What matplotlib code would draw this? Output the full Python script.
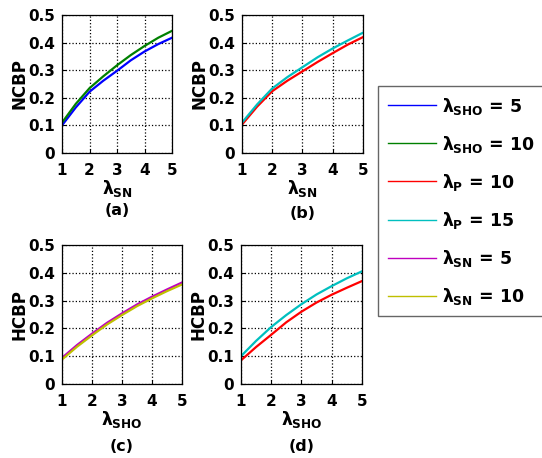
import matplotlib

matplotlib.use("Agg")
import matplotlib.pyplot as plt

# x-axis sample points shared by all panels
x_vals = [1, 1.5, 2, 2.5, 3, 3.5, 4, 4.5, 5]

# (a) NCBP vs lambda_SN, varying lambda_SHO
a_sho5 = [0.100, 0.165, 0.222, 0.262, 0.298, 0.336, 0.368, 0.395, 0.418]
a_sho10 = [0.110, 0.178, 0.235, 0.278, 0.318, 0.355, 0.388, 0.418, 0.443]
# (b) NCBP vs lambda_SN, varying lambda_P
b_p10 = [0.103, 0.168, 0.224, 0.262, 0.296, 0.330, 0.362, 0.393, 0.420]
b_p15 = [0.110, 0.176, 0.234, 0.275, 0.311, 0.347, 0.379, 0.408, 0.436]
# (c) HCBP vs lambda_SHO, varying lambda_SN
c_sn5 = [0.094, 0.140, 0.181, 0.220, 0.254, 0.286, 0.314, 0.340, 0.365]
c_sn10 = [0.088, 0.134, 0.175, 0.214, 0.248, 0.280, 0.308, 0.334, 0.358]
# (d) HCBP vs lambda_SHO, varying lambda_P
d_p10 = [0.085, 0.133, 0.177, 0.222, 0.260, 0.293, 0.321, 0.346, 0.370]
d_p15 = [0.100, 0.155, 0.205, 0.248, 0.287, 0.322, 0.352, 0.380, 0.405]

y_ticks = [0, 0.1, 0.2, 0.3, 0.4, 0.5]
y_tick_labels = ["0", "0.1", "0.2", "0.3", "0.4", "0.5"]
x_ticks = [1, 2, 3, 4, 5]

plt.rcParams["font.family"] = "DejaVu Sans"
plt.rcParams["font.weight"] = "bold"
plt.rcParams["mathtext.fontset"] = "custom"
plt.rcParams["mathtext.rm"] = "DejaVu Sans:bold"
plt.rcParams["mathtext.it"] = "DejaVu Sans:bold"
plt.rcParams["mathtext.bf"] = "DejaVu Sans:bold"

BLUE = "#0000ff"
GREEN = "#008000"
RED = "#ff0000"
CYAN = "#00bfbf"
MAGENTA = "#bf00bf"
YELLOW = "#bfbf00"


def _style(ax, ylabel, xlabel, caption, cap_y):
    ax.set_xlim(1, 5)
    ax.set_ylim(0, 0.5)
    ax.set_xticks(x_ticks)
    ax.set_yticks(y_ticks)
    ax.set_xticklabels([str(t) for t in x_ticks], fontsize=11, fontweight="bold")
    ax.set_yticklabels(y_tick_labels, fontsize=11, fontweight="bold")
    ax.tick_params(axis="x", direction="in", length=3, width=0.8, pad=7)
    ax.tick_params(axis="y", direction="in", length=3, width=0.8, pad=5)
    ax.grid(True, color="black", linestyle=":", linewidth=0.9)
    ax.set_ylabel(ylabel, fontsize=12, fontweight="bold", labelpad=0)
    ax.set_xlabel(xlabel, fontsize=12.5, labelpad=0)
    ax.text(0.5, cap_y, caption, transform=ax.transAxes, ha="center", va="center",
            fontsize=11.5, fontweight="bold")
    for sp in ax.spines.values():
        sp.set_linewidth(0.9)


fig = plt.figure(figsize=(5.42, 4.58), dpi=100)
ax_a = fig.add_axes([0.1144, 0.666, 0.203, 0.301])
ax_b = fig.add_axes([0.4465, 0.666, 0.223, 0.301])
ax_c = fig.add_axes([0.1144, 0.1616, 0.2214, 0.3035])
ax_d = fig.add_axes([0.4446, 0.1616, 0.223, 0.3035])

lw = 1.6
h1, = ax_a.plot(x_vals, a_sho5, color=BLUE, lw=lw, label=r"$\lambda_{SHO}$ = 5")
h2, = ax_a.plot(x_vals, a_sho10, color=GREEN, lw=lw, label=r"$\lambda_{SHO}$ = 10")
h3, = ax_b.plot(x_vals, b_p10, color=RED, lw=lw, label=r"$\lambda_{P}$ = 10")
h4, = ax_b.plot(x_vals, b_p15, color=CYAN, lw=lw, label=r"$\lambda_{P}$ = 15")
h5, = ax_c.plot(x_vals, c_sn5, color=MAGENTA, lw=lw, label=r"$\lambda_{SN}$ = 5")
h6, = ax_c.plot(x_vals, c_sn10, color=YELLOW, lw=lw, label=r"$\lambda_{SN}$ = 10")
ax_d.plot(x_vals, d_p10, color=RED, lw=lw)
ax_d.plot(x_vals, d_p15, color=CYAN, lw=lw)

_style(ax_a, "NCBP", r"$\lambda_{SN}$", "(a)", -0.42)
_style(ax_b, "NCBP", r"$\lambda_{SN}$", "(b)", -0.44)
_style(ax_c, "HCBP", r"$\lambda_{SHO}$", "(c)", -0.45)
_style(ax_d, "HCBP", r"$\lambda_{SHO}$", "(d)", -0.45)

handles = [h1, h2, h3, h4, h5, h6]
leg = fig.legend(handles=handles, labels=[h.get_label() for h in handles],
                 loc="upper left", bbox_to_anchor=(378 / 542, 1 - 86 / 458),
                 fontsize=12.5, frameon=True, fancybox=False, edgecolor="#404040",
                 handlelength=2.8, handletextpad=0.35, labelspacing=0.98,
                 borderpad=0.55, borderaxespad=0)
leg.get_frame().set_linewidth(1.0)
for line in leg.get_lines():
    line.set_linewidth(1.0)

fig.savefig("out.png", dpi=100)
